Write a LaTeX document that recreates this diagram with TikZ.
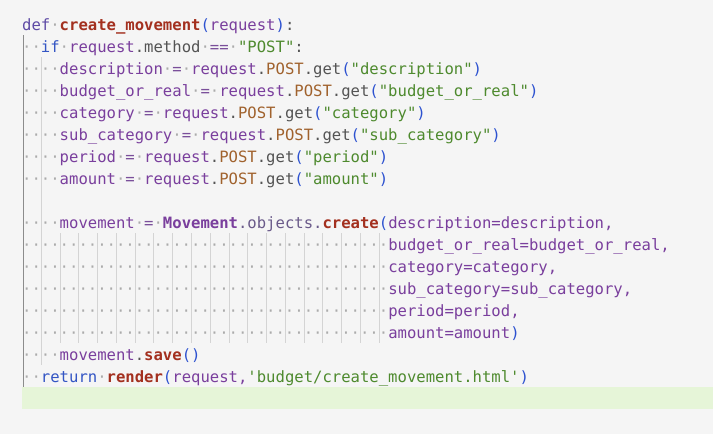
\documentclass[tikz,border=0pt]{standalone}
\usepackage{fontspec}
\setmonofont{DejaVu Sans Mono}
\definecolor{bgc}{HTML}{F5F5F5}
\definecolor{kwc}{HTML}{3355C4}
\definecolor{defc}{HTML}{5E4AA5}
\definecolor{func}{HTML}{A3301F}
\definecolor{parc}{HTML}{2D52D0}
\definecolor{varc}{HTML}{7A3F9D}
\definecolor{attc}{HTML}{545454}
\definecolor{objc}{HTML}{6A5A8A}
\definecolor{postc}{HTML}{A0622D}
\definecolor{strc}{HTML}{4E8A2E}
\definecolor{opc}{HTML}{7A4F9A}
\definecolor{dotc}{HTML}{ABABAB}
\definecolor{guidec}{HTML}{D4D4D4}
\definecolor{guidedark}{HTML}{8C8C8C}
\definecolor{hlc}{HTML}{E6F5D8}
\newcommand\cK[1]{\textcolor{kwc}{#1}}
\newcommand\cDef[1]{\textcolor{defc}{#1}}
\newcommand\cF[1]{\textcolor{func}{\bfseries #1}}
\newcommand\cP[1]{\textcolor{parc}{#1}}
\newcommand\cV[1]{\textcolor{varc}{#1}}
\newcommand\cA[1]{\textcolor{attc}{#1}}
\newcommand\cOb[1]{\textcolor{objc}{#1}}
\newcommand\cB[1]{\textcolor{postc}{#1}}
\newcommand\cS[1]{\textcolor{strc}{#1}}
\newcommand\cO[1]{\textcolor{opc}{#1}}
\newcommand\cM[1]{\textcolor{varc}{\bfseries #1}}
\newcommand\cD[1]{\textcolor{dotc}{#1}}
\newcommand\dotrun[1]{\textcolor{dotc}{\foreach\ii in {1,...,#1}{·}}}
\tikzset{
  codeline/.style={anchor=base west, inner sep=0pt, font=\ttfamily\fontsize{15.59}{18}\selectfont},
  guide/.style={draw=guidec, line width=0.8pt},
  guidemain/.style={draw=guidedark, line width=0.9pt}
}
\begin{document}
\begin{tikzpicture}[x=1pt,y=-1pt]
\fill[bgc] (0,0) rectangle (713,434);
\useasboundingbox (0,0) rectangle (713,434);
\fill[hlc] (22,387) rectangle (713,409);
% indent guides
\draw[guidemain] (23,35) -- (23,387);
\draw[guide] (41.3,57) -- (41.3,365);
\foreach \k in {4,6,...,38} {
  \draw[guide] ({22+\k*9.385+0.5},233) -- ({22+\k*9.385+0.5},343);
}
\node[codeline] (l1) at (22,30.5) {\cDef{def}\cD{·}\cF{create\_movement}\cP{(}\cV{request}\cP{)}\cA{:}};
\node[codeline] (l2) at (22,52.5) {\cD{··}\cK{if}\cD{·}\cV{request}\cA{.method}\cD{·}\cO{==}\cD{·}\cS{"POST"}\cA{:}};
\node[codeline] (l3) at (22,74.5) {\cD{····}\cV{description}\cD{·}\cO{=}\cD{·}\cV{request}\cA{.}\cB{POST}\cA{.get}\cP{(}\cS{"description"}\cP{)}};
\node[codeline] (l4) at (22,96.5) {\cD{····}\cV{budget\_or\_real}\cD{·}\cO{=}\cD{·}\cV{request}\cA{.}\cB{POST}\cA{.get}\cP{(}\cS{"budget\_or\_real"}\cP{)}};
\node[codeline] (l5) at (22,118.5) {\cD{····}\cV{category}\cD{·}\cO{=}\cD{·}\cV{request}\cA{.}\cB{POST}\cA{.get}\cP{(}\cS{"category"}\cP{)}};
\node[codeline] (l6) at (22,140.5) {\cD{····}\cV{sub\_category}\cD{·}\cO{=}\cD{·}\cV{request}\cA{.}\cB{POST}\cA{.get}\cP{(}\cS{"sub\_category"}\cP{)}};
\node[codeline] (l7) at (22,162.5) {\cD{····}\cV{period}\cD{·}\cO{=}\cD{·}\cV{request}\cA{.}\cB{POST}\cA{.get}\cP{(}\cS{"period"}\cP{)}};
\node[codeline] (l8) at (22,184.5) {\cD{····}\cV{amount}\cD{·}\cO{=}\cD{·}\cV{request}\cA{.}\cB{POST}\cA{.get}\cP{(}\cS{"amount"}\cP{)}};
\node[codeline] (l10) at (22,228.5) {\cD{····}\cV{movement}\cD{·}\cO{=}\cD{·}\cM{Movement}\cOb{.objects.}\cF{create}\cP{(}\cV{description=description,}};
\node[codeline] (l11) at (22,250.5) {\dotrun{39}\cV{budget\_or\_real=budget\_or\_real,}};
\node[codeline] (l12) at (22,272.5) {\dotrun{39}\cV{category=category,}};
\node[codeline] (l13) at (22,294.5) {\dotrun{39}\cV{sub\_category=sub\_category,}};
\node[codeline] (l14) at (22,316.5) {\dotrun{39}\cV{period=period,}};
\node[codeline] (l15) at (22,338.5) {\dotrun{39}\cV{amount=amount}\cP{)}};
\node[codeline] (l16) at (22,360.5) {\cD{····}\cV{movement}\cA{.}\cF{save}\cP{()}};
\node[codeline] (l17) at (22,382.5) {\cD{··}\cK{return}\cD{·}\cF{render}\cP{(}\cV{request,}\cS{'budget/create\_movement.html'}\cP{)}};
\end{tikzpicture}
\end{document}
